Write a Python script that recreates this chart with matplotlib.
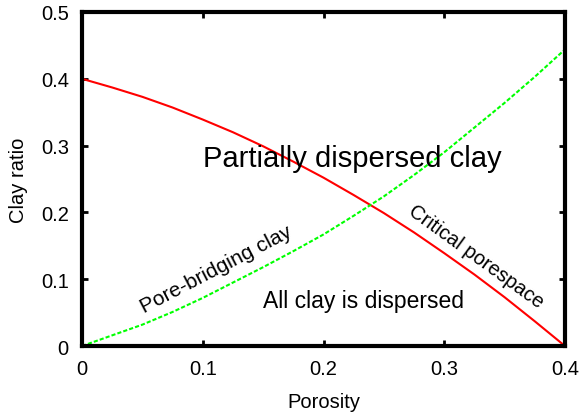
import matplotlib
matplotlib.use("Agg")
import matplotlib.pyplot as plt

plt.rcParams['font.family'] = ['Liberation Sans', 'DejaVu Sans']

# Porosity samples and the two boundary curves
porosity = [0.0, 0.025, 0.05, 0.075, 0.1, 0.125, 0.15, 0.175, 0.2,
            0.225, 0.25, 0.275, 0.3, 0.325, 0.35, 0.375, 0.4]
critical_porespace = [0.400, 0.387, 0.373, 0.357, 0.339, 0.320, 0.299, 0.276, 0.252,
                      0.226, 0.199, 0.170, 0.139, 0.107, 0.073, 0.037, 0.000]
pore_bridging = [0.000, 0.016, 0.032, 0.051, 0.072, 0.095, 0.118, 0.142, 0.167,
                 0.195, 0.224, 0.256, 0.290, 0.327, 0.364, 0.403, 0.444]

xticks = [0, 0.1, 0.2, 0.3, 0.4]
xtick_labels = ["0", "0.1", "0.2", "0.3", "0.4"]
yticks = [0, 0.1, 0.2, 0.3, 0.4, 0.5]
ytick_labels = ["0", "0.1", "0.2", "0.3", "0.4", "0.5"]

fig = plt.figure(figsize=(5.83, 4.14), dpi=100)
ax = fig.add_axes([0.1407, 0.1618, 0.9691 - 0.1407, 0.9686 - 0.1618])

ax.plot(porosity, critical_porespace, color='#ff0000', lw=1.5, solid_capstyle='butt')
ax.plot(porosity, pore_bridging, color='#00ff00', lw=1.5, linestyle=(0, (2, 1)))

ax.set_xlim(0, 0.4)
ax.set_ylim(0, 0.5)
ax.set_xticks(xticks)
ax.set_xticklabels(xtick_labels)
ax.set_yticks(yticks)
ax.set_yticklabels(ytick_labels)

for side in ax.spines.values():
    side.set_linewidth(3)
ax.tick_params(direction='in', length=4.5, width=2, top=True, right=True,
               labelsize=14.5, pad=9.5, colors='black')
ax.tick_params(axis='y', pad=9.5)

ax.set_xlabel("Porosity", fontsize=14.5, labelpad=10)
ax.set_ylabel("Clay ratio", fontsize=14.5, labelpad=9)

ax.text(0.2235, 0.2695, "Partially dispersed clay", fontsize=21,
        ha='center', va='baseline')
ax.text(0.2335, 0.058, "All clay is dispersed", fontsize=16.5,
        ha='center', va='baseline')
ax.text(0.1115, 0.1153, "Pore-bridging clay", fontsize=15,
        ha='center', va='center', rotation=27.5, rotation_mode='anchor')
ax.text(0.3267, 0.135, "Critical porespace", fontsize=14.5,
        ha='center', va='center', rotation=-36, rotation_mode='anchor')

fig.savefig("out.png", dpi=100)
